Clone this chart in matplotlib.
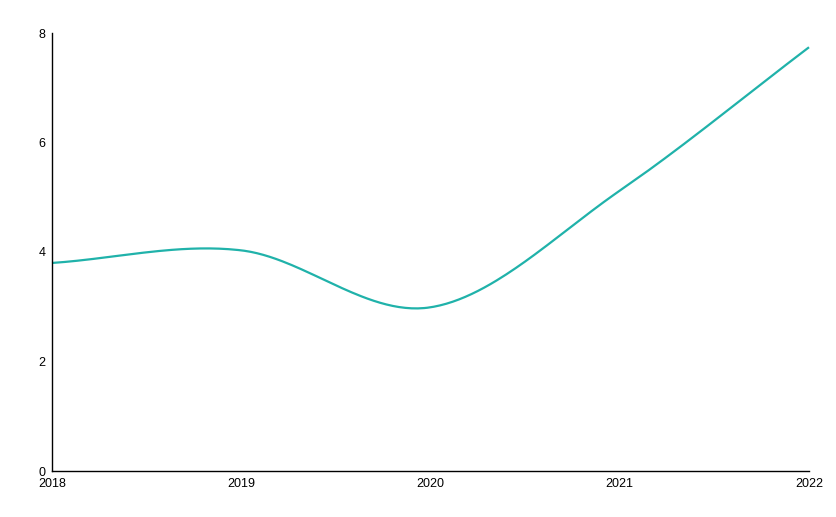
import numpy as np
import matplotlib
matplotlib.use("Agg")
import matplotlib.pyplot as plt

# values
years = [2018, 2019, 2020, 2021, 2022]
values = [3.8, 4.03, 2.99, 5.12, 7.74]
y_ticks = [0, 2, 4, 6, 8]

line_color = "#20b2aa"


def smooth_curve(xs, ys, n=60):
    # cubic hermite through the points, tangents from np.gradient
    xs = np.asarray(xs, dtype=float)
    ys = np.asarray(ys, dtype=float)
    m = np.gradient(ys, xs)
    out_x = []
    out_y = []
    for i in range(len(xs) - 1):
        h = xs[i+1] - xs[i]
        t = np.linspace(0, 1, n, endpoint=(i == len(xs) - 2))
        h00 = 2*t**3 - 3*t**2 + 1
        h10 = t**3 - 2*t**2 + t
        h01 = -2*t**3 + 3*t**2
        h11 = t**3 - t**2
        out_x.append(xs[i] + t*h)
        out_y.append(h00*ys[i] + h10*h*m[i] + h01*ys[i+1] + h11*h*m[i+1])
    return np.concatenate(out_x), np.concatenate(out_y)


plt.rcParams['font.family'] = ['Liberation Sans Narrow', 'Liberation Sans', 'DejaVu Sans']

fig = plt.figure(figsize=(8.36, 5.17), dpi=100)
ax = fig.add_axes([52/836, 46/517, 757/836, 438/517])

sx, sy = smooth_curve(years, values)
ax.plot(sx, sy, color=line_color, linewidth=1.6, solid_capstyle='butt', clip_on=False)

ax.set_xlim(years[0], years[-1])
ax.set_ylim(y_ticks[0], y_ticks[-1])
ax.set_xticks(years)
ax.set_xticklabels([str(y) for y in years])
ax.set_yticks(y_ticks)
ax.set_yticklabels([str(v) for v in y_ticks])
ax.tick_params(axis='both', length=0, labelsize=9, colors='black')
ax.tick_params(axis='x', pad=5)
ax.tick_params(axis='y', pad=4.5)

for side in ['top', 'right']:
    ax.spines[side].set_visible(False)
for side in ['left', 'bottom']:
    ax.spines[side].set_color('black')
    ax.spines[side].set_linewidth(1.0)

fig.savefig("out.png", dpi=100)
